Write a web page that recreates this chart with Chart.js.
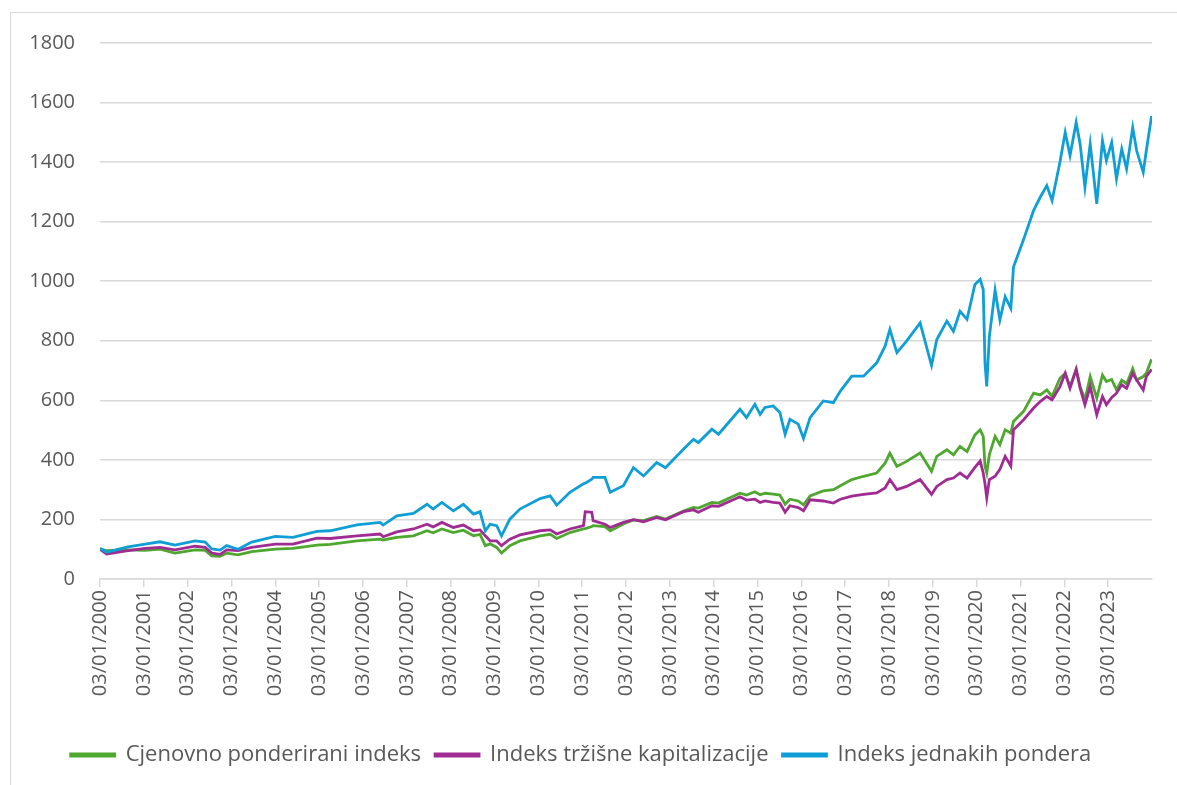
<!DOCTYPE html>
<html>
<head>
<meta charset="utf-8">
<script src="https://cdn.jsdelivr.net/npm/chart.js@4.4.1/dist/chart.umd.min.js"></script>
<style>
  html, body { margin: 0; padding: 0; background: #fff; overflow: hidden; }
  #frame { position: absolute; left: 10px; top: 12px; width: 1300px; height: 900px; border: 1px solid #d9d9d9; }
  #wrap  { position: absolute; left: 0; top: 0; width: 1177px; height: 785px; }
</style>
</head>
<body>
<div id="frame"></div>
<div id="wrap"><canvas id="chart"></canvas></div>
<script>
// ── Data (fractional year on x) ─────────────────────────────────────────────
const dates = [
  2000.00, 2000.15, 2000.64, 2001.03, 2001.37, 2001.71, 2002.17, 2002.40, 2002.55, 2002.74,
  2002.89, 2003.15, 2003.46, 2004.00, 2004.40, 2004.95, 2005.25, 2005.86, 2006.39, 2006.46,
  2006.77, 2007.15, 2007.46, 2007.60, 2007.80, 2008.06, 2008.29, 2008.52, 2008.67, 2008.79,
  2008.90, 2009.05, 2009.16, 2009.35, 2009.58, 2010.04, 2010.27, 2010.42, 2010.72, 2011.03,
  2011.07, 2011.22, 2011.25, 2011.52, 2011.64, 2011.94, 2012.17, 2012.40, 2012.70, 2012.90,
  2013.31, 2013.54, 2013.65, 2013.96, 2014.11, 2014.60, 2014.75, 2014.94, 2015.06, 2015.17,
  2015.36, 2015.51, 2015.63, 2015.74, 2015.93, 2016.05, 2016.20, 2016.50, 2016.73, 2016.89,
  2017.15, 2017.42, 2017.72, 2017.91, 2018.02, 2018.18, 2018.40, 2018.71, 2018.97, 2019.09,
  2019.32, 2019.47, 2019.62, 2019.78, 2019.96, 2020.08, 2020.15, 2020.19, 2020.23, 2020.29,
  2020.42, 2020.53, 2020.65, 2020.78, 2020.84, 2021.07, 2021.30, 2021.45, 2021.60, 2021.72,
  2021.90, 2022.02, 2022.13, 2022.27, 2022.36, 2022.47, 2022.59, 2022.74, 2022.87, 2022.96,
  2023.08, 2023.19, 2023.31, 2023.42, 2023.56, 2023.65, 2023.80, 2023.87, 2023.99
];

// Cjenovno ponderirani indeks
const priceWeighted = [
  100,  95,  98,  96, 100,  87,  98,  96,  78,  76,
   87,  81,  92, 100, 103, 114, 116, 128, 134, 131,
  140, 145, 162, 155, 168, 156, 164, 145, 150, 112,
  118, 106,  87, 112, 128, 145, 150, 136, 156, 168,
  169, 176, 179, 176, 162, 185, 198, 196, 210, 201,
  228, 240, 238, 257, 255, 288, 282, 293, 283, 288,
  285, 282, 251, 268, 262, 249, 279, 296, 300, 313,
  334, 345, 356, 389, 423, 378, 395, 423, 362, 412,
  434, 417, 445, 428, 484, 501, 479, 379, 356, 418,
  479, 451, 501, 490, 529, 563, 624, 618, 635, 613,
  674, 691, 646, 704, 646, 602, 680, 607, 685, 663,
  670, 635, 668, 655, 707, 668, 680, 691, 738
];

// Indeks tržišne kapitalizacije
const capWeighted = [
  100,  84,  95, 103, 106,  98, 110, 106,  87,  83,
   98,  95, 106, 117, 117, 137, 136, 145, 151, 142,
  158, 168, 184, 175, 190, 173, 181, 162, 165, 145,
  128, 128, 112, 134, 148, 162, 165, 151, 168, 179,
  226, 224, 196, 184, 173, 190, 199, 192, 207, 199,
  226, 232, 224, 246, 244, 276, 265, 268, 257, 262,
  257, 255, 224, 246, 240, 229, 266, 262, 255, 268,
  278, 284, 289, 306, 334, 300, 311, 334, 284, 311,
  334, 339, 356, 339, 375, 396, 356, 320, 273, 334,
  345, 368, 412, 379, 501, 535, 574, 596, 613, 602,
  646, 691, 641, 704, 641, 585, 646, 552, 613, 585,
  610, 624, 652, 640, 691, 668, 635, 680, 704
];

// Indeks jednakih pondera
const equalWeighted = [
  103,  90, 108, 117, 125, 114, 128, 124, 101,  97,
  112, 100, 124, 143, 140, 160, 162, 182, 190, 181,
  212, 220, 251, 235, 257, 229, 251, 218, 226, 162,
  184, 179, 145, 201, 235, 270, 279, 248, 291, 320,
  322, 335, 341, 341, 291, 313, 374, 346, 391, 374,
  436, 469, 458, 503, 486, 570, 542, 587, 553, 576,
  581, 559, 486, 536, 520, 472, 542, 598, 592, 631,
  681, 681, 726, 782, 838, 760, 799, 860, 717, 804,
  866, 832, 899, 872, 989, 1006, 972, 725, 647, 815,
  970, 870, 948, 909, 1048, 1140, 1238, 1282, 1321, 1271,
  1400, 1500, 1422, 1533, 1461, 1316, 1461, 1260, 1472, 1405,
  1466, 1344, 1444, 1377, 1516, 1438, 1366, 1438, 1555
];

const seriesNames = [
  "Cjenovno ponderirani indeks",
  "Indeks tržišne kapitalizacije",
  "Indeks jednakih pondera"
];
const tickYears = [2000, 2001, 2002, 2003, 2004, 2005, 2006, 2007, 2008, 2009, 2010, 2011,
                   2012, 2013, 2014, 2015, 2016, 2017, 2018, 2019, 2020, 2021, 2022, 2023];

// ── Styling ──────────────────────────────────────────────────────────────────
const COLORS = {
  green:  "#4ea72e",
  purple: "#a02b93",
  blue:   "#0f9ed5",
  grid:   "#d9d9d9",
  text:   "#595959",
};
const FONT = "'Open Sans', 'Liberation Sans', sans-serif";

Chart.defaults.font.family = FONT;
Chart.defaults.color = COLORS.text;

function toPoints(values) {
  return dates.map((d, i) => ({ x: d, y: values[i] }));
}

function lineSet(label, values, color, order) {
  return {
    label:           label,
    data:            toPoints(values),
    borderColor:     color,
    backgroundColor: color,
    borderWidth:     2.8,
    pointRadius:     0,
    tension:         0,
    order:           order,
  };
}

const ctx = document.getElementById("chart").getContext("2d");
new Chart(ctx, {
  type: "line",
  data: {
    datasets: [
      lineSet(seriesNames[0], priceWeighted, COLORS.green, 3),
      lineSet(seriesNames[1], capWeighted,   COLORS.purple, 2),
      lineSet(seriesNames[2], equalWeighted, COLORS.blue, 1),
    ],
  },
  options: {
    responsive:          true,
    maintainAspectRatio: false,
    animation:           false,
    layout: { padding: { left: 10, top: 43, right: 25, bottom: 9 } },
    plugins: {
      tooltip: { enabled: false },
      legend: {
        position: "bottom",
        labels: {
          sort:      (a, b) => a.datasetIndex - b.datasetIndex,
          boxWidth:  44,
          boxHeight: 2,
          padding:   14,
          color:     COLORS.text,
          font:      { size: 22 },
        },
      },
    },
    scales: {
      x: {
        type: "linear",
        min:  2000,
        max:  2024,
        afterBuildTicks: (axis) => { axis.ticks = tickYears.map((v) => ({ value: v })); },
        afterFit: (axis) => { axis.height = 151; },
        ticks: {
          autoSkip:    false,
          minRotation: 90,
          maxRotation: 90,
          padding:     3,
          color:       COLORS.text,
          font:        { size: 20 },
          callback:    (v) => "03/01/" + v,
        },
        grid:   { drawOnChartArea: false, drawTicks: true, tickLength: 8, color: COLORS.grid, lineWidth: 1.5 },
        border: { display: true, color: COLORS.grid, width: 1.5 },
      },
      y: {
        min: 0,
        max: 1800,
        afterFit: (axis) => { axis.width = 90; },
        ticks: {
          stepSize: 200,
          padding:  25,
          color:    COLORS.text,
          font:     { size: 20 },
          callback: (v) => String(v),
        },
        grid:   { color: COLORS.grid, lineWidth: 1.5, drawTicks: false },
        border: { display: false },
      },
    },
  },
});
</script>
</body>
</html>
